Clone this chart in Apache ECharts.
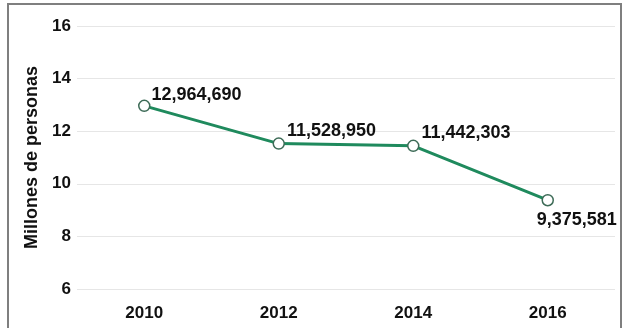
<!DOCTYPE html>
<html>
<head>
<meta charset="utf-8">
<script src="https://cdn.jsdelivr.net/npm/echarts@6/dist/echarts.min.js"></script>
<style>
  html, body { margin: 0; padding: 0; background: #ffffff; }
  #chart { width: 623px; height: 328px; }
</style>
</head>
<body>
<div id="chart"></div>
<script>
// Población en millones de personas, por año
const years = ['2010', '2012', '2014', '2016'];
const people = [12964690, 11528950, 11442303, 9375581];
const yTicks = [6, 8, 10, 12, 14, 16];

const millions = people.map(v => v / 1e6);
const fmt = v => v.toLocaleString('en-US');

const labelOffsets = [[-1, -11], [0, -13], [0, -13], [29, 0]];
const labelPositions = ['right', 'right', 'right', 'bottom'];

const chart = echarts.init(document.getElementById('chart'), null, { renderer: 'canvas' });

chart.setOption({
  backgroundColor: '#ffffff',
  animation: false,
  textStyle: { fontFamily: 'Liberation Sans, Arial, sans-serif' },
  graphic: [{
    type: 'rect',
    shape: { x: 8, y: 4, width: 613, height: 340 },
    style: { fill: 'none', stroke: '#7f7f7f', lineWidth: 2 },
    silent: true,
    z: 100
  }],
  grid: { left: 77, right: 8, top: 26, bottom: 39 },
  xAxis: {
    type: 'category',
    data: years,
    boundaryGap: true,
    axisLine: { show: false },
    axisTick: { show: false },
    axisLabel: { color: '#111', fontSize: 17, fontWeight: 'bold', margin: 16 },
    splitLine: { show: false }
  },
  yAxis: {
    type: 'value',
    min: yTicks[0],
    max: yTicks[yTicks.length - 1],
    interval: 2,
    name: 'Millones de personas',
    nameLocation: 'middle',
    nameGap: 31,
    nameTextStyle: { color: '#111', fontSize: 18, fontWeight: 'bold' },
    axisLine: { show: false },
    axisTick: { show: false },
    axisLabel: { color: '#111', fontSize: 17, fontWeight: 'bold', margin: 6 },
    splitLine: { lineStyle: { color: '#e6e6e6', width: 1 } }
  },
  series: [{
    type: 'line',
    data: millions.map((v, i) => ({
      value: v,
      label: {
        show: true,
        position: labelPositions[i],
        distance: i === 3 ? 5 : 2,
        offset: labelOffsets[i],
        formatter: () => fmt(people[i]),
        color: '#111',
        fontSize: 18,
        fontWeight: 'bold'
      }
    })),
    symbol: 'circle',
    symbolSize: 11,
    showAllSymbol: true,
    lineStyle: { color: '#1f8a5d', width: 3 },
    itemStyle: { color: '#ffffff', borderColor: '#3d6b57', borderWidth: 1.5 },
    z: 3
  }]
});
</script>
</body>
</html>
